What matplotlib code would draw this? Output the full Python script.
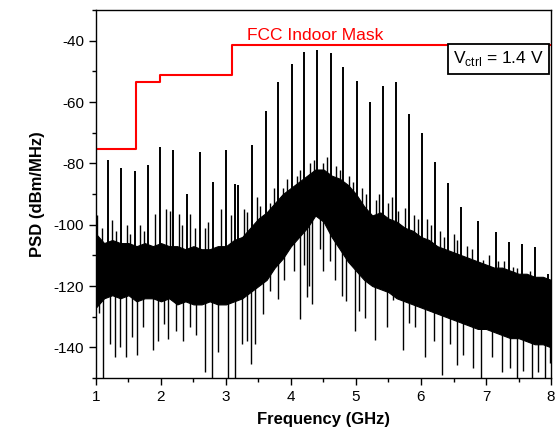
import numpy as np
import matplotlib.pyplot as plt
from matplotlib.ticker import MultipleLocator

plt.rcParams['font.family'] = ['Liberation Sans', 'DejaVu Sans']
plt.rcParams['axes.unicode_minus'] = False

# dense part of the noise floor, read every 0.125 GHz (dBm/MHz)
band_freq = [1.000, 1.125, 1.250, 1.375, 1.500, 1.625, 1.750, 1.875, 2.000, 2.125,
             2.250, 2.375, 2.500, 2.625, 2.750, 2.875, 3.000, 3.125, 3.250, 3.375,
             3.500, 3.625, 3.750, 3.875, 4.000, 4.125, 4.250, 4.375, 4.500, 4.625,
             4.750, 4.875, 5.000, 5.125, 5.250, 5.375, 5.500, 5.625, 5.750, 5.875,
             6.000, 6.125, 6.250, 6.375, 6.500, 6.625, 6.750, 6.875, 7.000, 7.125,
             7.250, 7.375, 7.500, 7.625, 7.750, 7.875, 8.000]
band_top = [-103, -106, -105, -106, -106, -107, -106, -107, -106, -107,
            -107, -108, -107, -108, -108, -107, -107, -105, -104, -101,
            -98, -96, -93, -90, -88, -86, -84, -82, -82, -84,
            -85, -87, -90, -94, -97, -96, -98, -99, -101, -102,
            -104, -105, -107, -108, -109, -110, -111, -112, -113, -114,
            -114, -115, -116, -116, -117, -117, -118]
band_bot = [-127, -124, -123, -124, -123, -125, -124, -124, -125, -124,
            -126, -125, -126, -126, -125, -126, -126, -125, -124, -122,
            -120, -118, -114, -111, -107, -104, -101, -97, -99, -104,
            -108, -112, -115, -118, -120, -121, -122, -124, -125, -126,
            -127, -128, -129, -130, -131, -132, -133, -134, -134, -135,
            -136, -137, -137, -138, -139, -139, -140]

# comb lines (GHz, peak dBm/MHz)
comb_freq = [1.19, 1.39, 1.60, 1.80, 1.99, 2.19, 2.40, 2.60, 2.80, 3.00,
             3.14, 3.18, 3.40, 3.61, 3.80, 4.01, 4.205, 4.405, 4.61, 4.805,
             5.01, 5.215, 5.41, 5.61, 5.81, 6.015, 6.215, 6.41, 6.61, 6.88,
             7.15, 7.35, 7.55, 7.75, 7.95]
comb_peak = [-78.8, -81.5, -82.5, -80.6, -74.5, -75.8, -90.0, -76.3, -86.0, -75.8,
             -86.6, -87.0, -74.0, -62.8, -53.6, -47.5, -43.8, -42.9, -44.0, -48.5,
             -53.0, -60.0, -54.7, -53.6, -64.0, -70.0, -79.6, -86.3, -94.3, -98.8,
             -102.5, -105.8, -106.4, -107.2, -116.0]

# smaller lines poking above the noise
grass_freq = [1.02, 1.10, 1.24, 1.31, 1.47, 1.53, 1.68, 1.74, 1.91, 2.08,
              2.14, 2.27, 2.33, 2.45, 2.52, 2.68, 2.73, 2.93, 3.07, 3.27,
              3.33, 3.47, 3.53, 3.68, 3.74, 3.88, 3.94, 4.09, 4.14, 4.30,
              4.35, 4.49, 4.55, 4.70, 4.75, 4.90, 4.95, 5.10, 5.15, 5.31,
              5.36, 5.50, 5.56, 5.65, 5.75, 5.90, 5.95, 6.09, 6.15, 6.29,
              6.35, 6.50, 6.56, 6.70, 6.78, 6.96, 7.05, 7.19, 7.27, 7.42,
              7.48, 7.62, 7.68, 7.86, 7.96]
grass_top = [-97, -101, -98.6, -102, -100, -103, -100, -102, -96.5, -95,
             -95.5, -96.5, -100, -96.5, -101, -101, -99, -95, -97, -95,
             -96, -91, -94, -93, -88, -88, -85, -84, -82, -80,
             -79, -80, -78, -81, -82, -84, -86, -88, -90, -92,
             -90, -93, -91, -95.5, -94.4, -97, -98, -98, -100, -102,
             -104, -103, -105, -107, -108, -111.5, -110, -112, -112, -113.7,
             -114, -116.9, -115, -118, -118]

# deep dips below the noise
dip_freq = [1.04, 1.11, 1.22, 1.29, 1.37, 1.46, 1.55, 1.63, 1.73, 1.87,
            1.96, 2.04, 2.11, 2.23, 2.34, 2.45, 2.54, 2.67, 2.78, 2.88,
            3.03, 3.14, 3.24, 3.32, 3.38, 3.45, 3.57, 3.68, 3.80, 3.90,
            4.05, 4.14, 4.20, 4.24, 4.28, 4.33, 4.45, 4.50, 4.60, 4.68,
            4.78, 4.85, 4.98, 5.05, 5.14, 5.29, 5.47, 5.57, 5.73, 5.82,
            5.91, 6.06, 6.20, 6.32, 6.45, 6.55, 6.65, 6.80, 6.92, 7.09,
            7.24, 7.37, 7.47, 7.57, 7.70, 7.80, 7.90, 7.98]
dip_low = [-128.8, -150, -138.8, -143, -139.9, -143, -136.6, -142.6, -133.3, -141,
           -137.8, -132.4, -137.3, -134.7, -137.8, -133.3, -136, -148, -150, -141.5,
           -150, -150, -139, -138, -145.5, -139, -129, -121.6, -124.3, -118,
           -115, -130.7, -113, -123.7, -120, -125.9, -108, -115, -112, -118,
           -123.3, -125, -134.7, -128, -130.3, -137.5, -133.3, -124.6, -141, -132,
           -133.3, -143, -138, -149, -139, -145.6, -142.4, -146.8, -150, -143,
           -148, -146.8, -150, -147.6, -150, -148, -150, -145]

# FCC indoor emission mask
mask_freq = [1.0, 1.61, 1.99, 3.1, 8.2]
mask_level = [-75.3, -53.3, -51.3, -41.3, -41.3]

fig = plt.figure(figsize=(5.59, 4.38), dpi=100)
ax = fig.add_axes([0.1717, 0.137, 0.814, 0.840])

ax.fill_between(band_freq, band_bot, band_top, color='black', lw=0.8, edgecolor='black')
ax.vlines(dip_freq, np.interp(dip_freq, band_freq, band_bot) + 3, dip_low,
          color='black', lw=1.0)
ax.vlines(grass_freq, np.interp(grass_freq, band_freq, band_top) - 3, grass_top,
          color='black', lw=1.0)
ax.vlines(comb_freq, np.interp(comb_freq, band_freq, band_top) - 3, comb_peak,
          color='black', lw=1.4)

ax.step(mask_freq, mask_level, where='post', color='red', lw=1.5)
ax.text(3.32, -40.6, 'FCC Indoor Mask', color='red', fontsize=12.5,
        ha='left', va='bottom')
ax.text(0.985, 0.893, r'V$_{\mathregular{ctrl}}$ = 1.4 V', transform=ax.transAxes,
        fontsize=12.5, ha='right', va='top',
        bbox=dict(boxstyle='square,pad=0.3', fc='white', ec='black', lw=1.3))

ax.set_xlim(1, 8)
ax.set_ylim(-150, -30)
ax.xaxis.set_major_locator(MultipleLocator(1))
ax.xaxis.set_minor_locator(MultipleLocator(0.5))
ax.yaxis.set_major_locator(MultipleLocator(20))
ax.yaxis.set_minor_locator(MultipleLocator(10))
ax.tick_params(which='both', direction='out', labelsize=11, width=1.0)
ax.tick_params(which='major', length=5)
ax.tick_params(which='minor', length=3)
for s in ax.spines.values():
    s.set_linewidth(1.0)

ax.set_xlabel('Frequency (GHz)', fontsize=12, fontweight='bold', labelpad=6)
ax.set_ylabel('PSD (dBm/MHz)', fontsize=12, fontweight='bold', labelpad=6)

fig.savefig('out.png', dpi=100)
